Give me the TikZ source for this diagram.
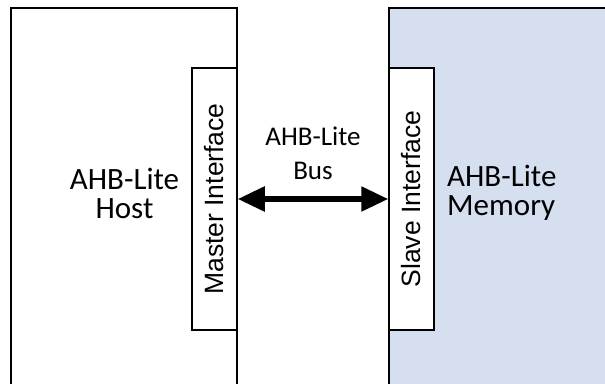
\documentclass[tikz,border=0pt]{standalone}
\usepackage{fontspec}
\setmainfont{Carlito}
\newfontfamily\arialfont{Liberation Sans}
\usetikzlibrary{arrows.meta}
\definecolor{memblue}{RGB}{213,223,239}

\begin{document}
\begin{tikzpicture}[x=1pt, y=1pt,
    block/.style={draw, line width=1.5pt, minimum width=#1, minimum height=412pt, inner sep=0pt},
    iface/.style={draw, line width=1.5pt, fill=white, rotate=90, minimum width=262pt, minimum height=45pt,
        inner sep=0pt, font=\arialfont\fontsize{26.5}{30}\selectfont},
    bus/.style={{Triangle[length=27pt, width=24pt]}-{Triangle[length=27pt, width=24pt]}, line width=5.5pt}]
        \useasboundingbox (0,0) rectangle (605,383);
        \clip (0,0) rectangle (605,383);

        % Pieces
        \node[block=226pt] (host) at (124, 169) {};
        \node[block=231pt, fill=memblue] (mem) at (504.5, 169) {};
        \node[iface] (master) at (214.5, 184) {Master Interface};
        \node[iface] (slave) at (411.5, 184) {Slave Interface};
        \node[align=center, font=\fontsize{31}{29}\selectfont] (hostlbl) at (124.5, 190) {AHB-Lite\\Host};
        \node[align=left, anchor=west, inner sep=0pt, font=\fontsize{31}{29}\selectfont] (memlbl) at (447, 190) {AHB-Lite\\Memory};
        \node[align=center, font=\fontsize{27}{34}\selectfont] (buslbl) at (313, 230) {AHB-Lite\\Bus};

        % Arrows
        \draw[bus] (master.south) -- (slave.north);
    \end{tikzpicture}
\end{document}
